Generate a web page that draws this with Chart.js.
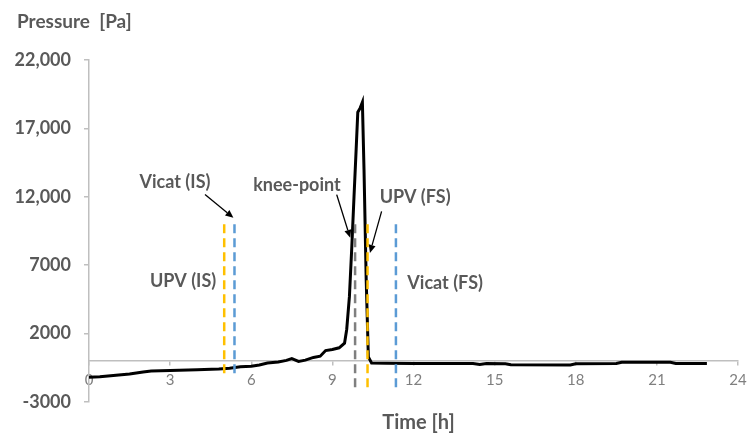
<!DOCTYPE html>
<html><head><meta charset="utf-8">
<script src="https://cdn.jsdelivr.net/npm/chart.js@4"></script>
<style>html,body{margin:0;padding:0;background:#fff;}#wrap{width:747px;height:434px;position:relative;}</style>
</head><body><div id="wrap"><canvas id="c"></canvas></div>
<script>
// ---- data ----
const hours = [0, 0.4, 1.0, 1.5, 2.0, 2.3, 3.0, 4.0, 4.8, 5.2, 5.6, 6.0, 6.3, 6.6, 7.0, 7.3, 7.5, 7.75, 8.0, 8.3, 8.55, 8.75, 9.0, 9.25, 9.45, 9.53, 9.63, 9.72, 9.80, 9.88, 9.94, 10.03, 10.11, 10.17, 10.25, 10.33, 10.45, 11.0, 12.0, 13.0, 14.2, 14.45, 14.7, 15.4, 15.6, 17.8, 18.0, 19.5, 19.7, 21.5, 21.7, 22.85];
const pressure = [-1200, -1160, -1050, -950, -800, -740, -700, -650, -590, -540, -420, -380, -300, -150, -80, 40, 170, -30, 60, 260, 350, 760, 840, 960, 1300, 2300, 4700, 8400, 12000, 15500, 18180, 18500, 18910, 14000, 6000, 300, -150, -170, -180, -180, -190, -260, -190, -200, -280, -290, -200, -190, -100, -100, -190, -190];
const xTicks = [0, 3, 6, 9, 12, 15, 18, 21, 24];
const yTickValues = [-3000, 2000, 7000, 12000, 17000, 22000];
const yTickLabels = ['-3000', '2000', '7000', '12,000', '17,000', '22,000'];
const markerNames = ['UPV (IS)', 'Vicat (IS)', 'knee-point', 'UPV (FS)', 'Vicat (FS)'];
const markerHours = [5.0, 5.38, 9.84, 10.3, 11.35];
const markerTop = [10000, 10000, 10000, 10000, 10000];
const markerBottom = [-1100, -1100, -2000, -2000, -2000];

// ---- styling / annotation layout (not data) ----
const markerColors = ['#FFC000', '#5B9BD5', '#7F7F7F', '#FFC000', '#5B9BD5'];
const labelPos = [[3.48, 5810], [3.18, 13040], [7.69, 12820], [12.06, 11940], [13.17, 5660]];
const arrows = [
  {from: [4.29, 12160], to: [5.34, 10460]},
  {from: [9.16, 12160], to: [9.66, 9000]},
  {from: [10.82, 10940], to: [10.39, 7900]}
];
const FONT = "Lato, 'Liberation Sans', sans-serif";

const datasets = markerHours.map((h, i) => ({
  label: markerNames[i],
  data: [{x: h, y: markerTop[i]}, {x: h, y: markerBottom[i]}],
  borderColor: markerColors[i],
  borderWidth: 2.5,
  borderDash: [9, 5],
  pointRadius: 0,
  order: 0
}));
datasets.push({
  label: 'Pressure',
  data: hours.map((h, i) => ({x: h, y: pressure[i]})),
  borderColor: '#000',
  borderWidth: 3,
  pointRadius: 0,
  tension: 0,
  order: 1
});

const overlay = {
  id: 'overlay',
  afterDatasetsDraw(chart) {
    const {ctx, scales: {x, y}, chartArea} = chart;
    ctx.save();
    ctx.fillStyle = '#595959';
    ctx.font = 'bold 18px ' + FONT;
    ctx.textAlign = 'center';
    ctx.textBaseline = 'middle';
    markerNames.forEach((n, i) => {
      ctx.fillText(n, x.getPixelForValue(labelPos[i][0]), y.getPixelForValue(labelPos[i][1]));
    });
    ctx.strokeStyle = '#000';
    ctx.fillStyle = '#000';
    ctx.lineWidth = 1.3;
    arrows.forEach(a => {
      const x1 = x.getPixelForValue(a.from[0]), y1 = y.getPixelForValue(a.from[1]);
      const x2 = x.getPixelForValue(a.to[0]), y2 = y.getPixelForValue(a.to[1]);
      const ang = Math.atan2(y2 - y1, x2 - x1);
      const hl = 8, hw = 3.5;
      ctx.beginPath();
      ctx.moveTo(x1, y1);
      ctx.lineTo(x2 - Math.cos(ang) * hl, y2 - Math.sin(ang) * hl);
      ctx.stroke();
      ctx.beginPath();
      ctx.moveTo(x2, y2);
      ctx.lineTo(x2 - Math.cos(ang) * hl - Math.sin(ang) * hw, y2 - Math.sin(ang) * hl + Math.cos(ang) * hw);
      ctx.lineTo(x2 - Math.cos(ang) * hl + Math.sin(ang) * hw, y2 - Math.sin(ang) * hl - Math.cos(ang) * hw);
      ctx.closePath();
      ctx.fill();
    });
    ctx.fillStyle = '#595959';
    ctx.font = 'bold 19px ' + FONT;
    ctx.textAlign = 'left';
    ctx.fillText('Pressure  [Pa]', 17, chartArea.top - 38);
    ctx.textAlign = 'center';
    ctx.font = 'bold 20px ' + FONT;
    ctx.fillText('Time [h]', (chartArea.left + chartArea.right) / 2 + 5, chartArea.bottom + 21);
    ctx.restore();
  }
};

new Chart(document.getElementById('c'), {
  type: 'line',
  data: {datasets},
  options: {
    responsive: true,
    maintainAspectRatio: false,
    animation: false,
    layout: {padding: {left: 0, right: 9, top: 60, bottom: 32}},
    plugins: {legend: {display: false}, tooltip: {enabled: false}},
    scales: {
      x: {
        type: 'linear',
        position: {y: 0},
        min: 0, max: 24,
        afterBuildTicks(s) { s.ticks = xTicks.map(v => ({value: v})); },
        afterFit(s) { s.paddingLeft = 0; s.paddingRight = 0; },
        ticks: {color: '#7F7F7F', font: {family: FONT, size: 15}, padding: 6, maxRotation: 0,
          callback: v => String(v)},
        grid: {display: true, drawOnChartArea: false, drawTicks: true, tickLength: 4, color: '#BFBFBF', lineWidth: 1.5},
        border: {display: true, color: '#BFBFBF', width: 1.5}
      },
      y: {
        type: 'linear',
        min: -3000, max: 22000,
        afterBuildTicks(s) { s.ticks = yTickValues.map(v => ({value: v})); },
        afterFit(s) { s.width = 89; s.paddingTop = 0; s.paddingBottom = 0; },
        ticks: {color: '#595959', font: {family: FONT, size: 18, weight: 'bold'}, padding: 13,
          callback: v => yTickLabels[yTickValues.indexOf(v)]},
        grid: {display: true, drawOnChartArea: false, drawTicks: true, tickLength: 5, color: '#BFBFBF', lineWidth: 1.5},
        border: {display: true, color: '#BFBFBF', width: 1.5}
      }
    }
  },
  plugins: [overlay]
});
</script>
</body></html>
